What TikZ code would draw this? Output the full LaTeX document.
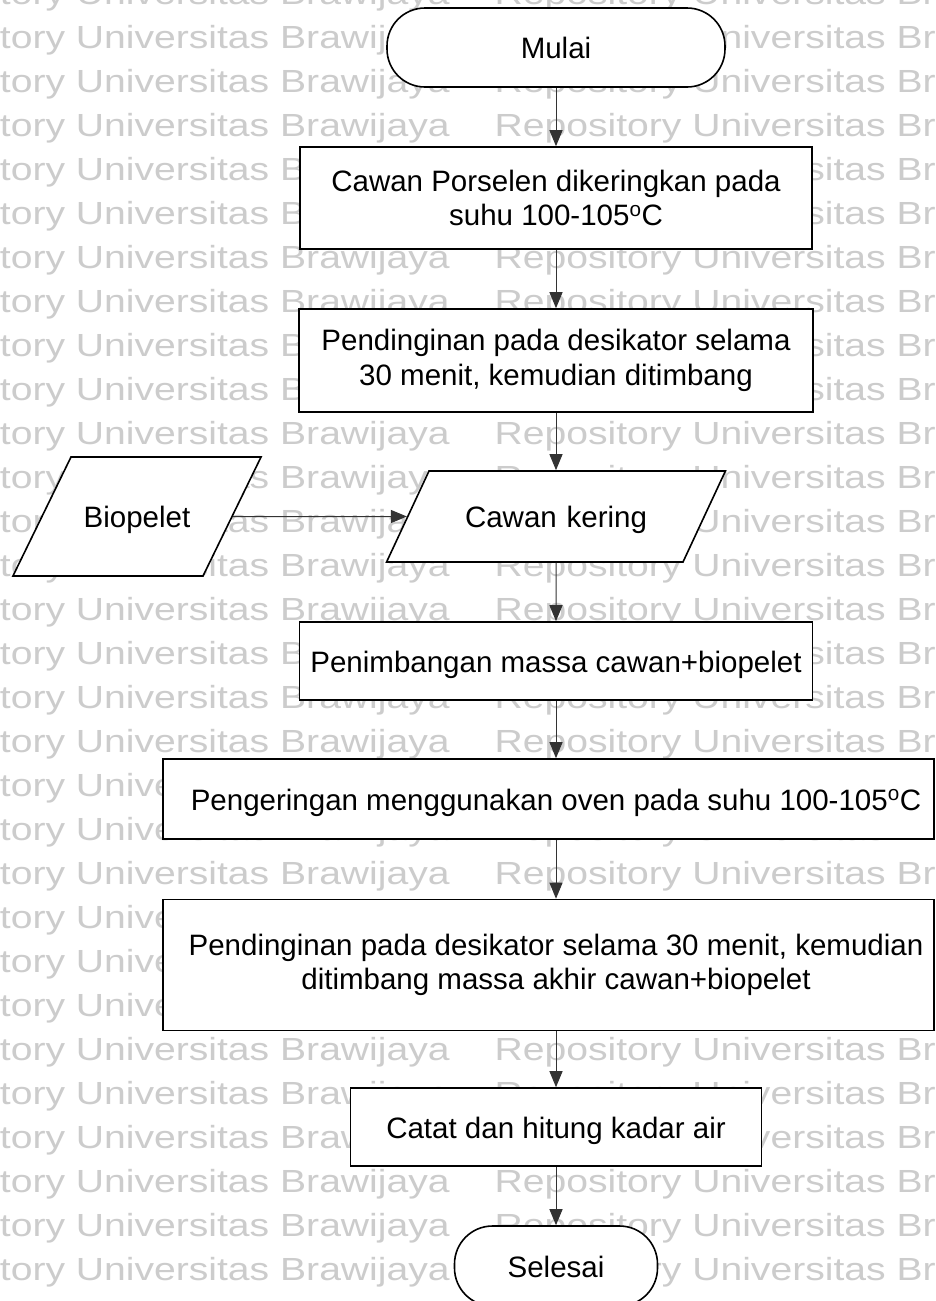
\documentclass[tikz,border=0pt]{standalone}
\usepackage{fontspec}
\setmainfont{Liberation Sans}
\usetikzlibrary{shapes.geometric,arrows.meta}
\begin{document}
\begin{tikzpicture}[x=1pt,y=-1pt,
  every node/.style={font=\fontsize{29.5}{34.5}\selectfont},
  procbox/.style={draw=black, line width=1.6pt, fill=white, rectangle, align=center, inner sep=0pt},
  oneline/.style={text height=27pt, text depth=5pt},
  termbox/.style={draw=black, line width=1.6pt, fill=white, rectangle, rounded corners=38pt, inner sep=0pt, oneline},
  iobox/.style={draw=black, line width=1.6pt, fill=white, trapezium, trapezium left angle=65, trapezium right angle=115, align=center, oneline},
  flow/.style={draw=black!80, line width=1pt, -{Triangle[length=16pt,width=13pt]}},
  wmark/.style={anchor=base west, inner sep=0pt, text=black!20, font=\fontsize{32}{32}\selectfont}
]
\useasboundingbox (0,0) rectangle (936,1301);
\fill[white] (0,0) rectangle (936,1301);
\clip (0,0) rectangle (936,1301);
\foreach \k in {0,...,29} {
  \node[wmark] (wm\k) at (-122,4+44*\k) {\scalebox{1.222}[1]{Repository Universitas Brawijaya\hspace{36.8pt}Repository Universitas Brawijaya}};
}
\node[termbox, minimum width=338pt, minimum height=79pt] (mulai) at (556,47.5) {Mulai};
\node[procbox, minimum width=512pt, minimum height=102pt] (b1) at (556,198) {Cawan Porselen dikeringkan pada\\suhu 100-105\textsuperscript{o}C};
\node[procbox, minimum width=514pt, minimum height=103pt] (b2) at (556,360.5) {Pendinginan pada desikator selama\\30 menit, kemudian ditimbang};
\node[iobox, text width=200pt, inner xsep=27pt, inner ysep=29.5pt] (cawan) at (556,516.5) {Cawan kering};
\node[iobox, text width=120pt, inner xsep=6pt, inner ysep=43.5pt, trapezium left angle=64, trapezium right angle=116] (bio) at (137,516.5) {Biopelet};
\node[procbox, oneline, minimum width=513pt, minimum height=78pt] (b3) at (556,661) {Penimbangan massa cawan+biopelet};
\node[procbox, oneline, minimum width=771pt, minimum height=80pt] (b4) at (548.5,799) {\hspace*{15pt}Pengeringan menggunakan oven pada suhu 100-105\textsuperscript{o}C};
\node[procbox, minimum width=771pt, minimum height=131pt] (b5) at (548.5,965) {\hspace*{15pt}Pendinginan pada desikator selama 30 menit, kemudian\\\hspace*{15pt}ditimbang massa akhir cawan+biopelet};
\node[procbox, oneline, minimum width=411pt, minimum height=78pt] (b6) at (556,1127) {Catat dan hitung kadar air};
\node[termbox, minimum width=203pt, minimum height=80pt] (end) at (556,1266) {Selesai};
\draw[flow] (mulai) -- (b1);
\draw[flow] (b1) -- (b2);
\draw[flow] (b2) -- (cawan);
\draw[flow] (bio) -- (cawan);
\draw[flow] (cawan) -- (b3);
\draw[flow] (b3.south) -- (b3.south |- b4.north);
\draw[flow] (b4.south -| b3.south) -- (b5.north -| b3.south);
\draw[flow] (b5.south -| b3.south) -- (b6);
\draw[flow] (b6) -- (end);
\end{tikzpicture}
\end{document}
